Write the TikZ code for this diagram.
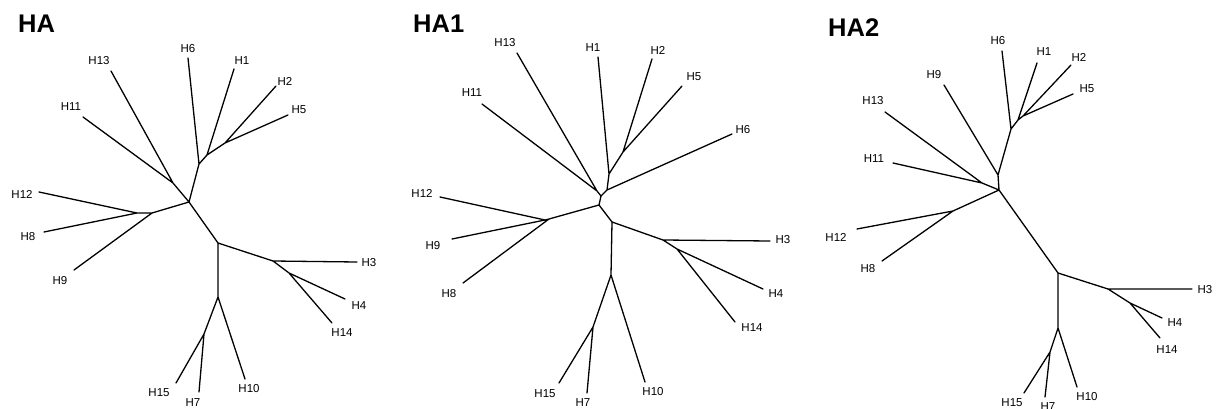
\documentclass[tikz,border=0pt]{standalone}
\usepackage{fontspec}
\setmainfont{Liberation Sans}
\begin{document}
\begin{tikzpicture}[x=1pt,y=-1pt,
  branch/.style={line width=1.3pt,line cap=round,line join=round},
  leaf/.style={inner sep=0pt,font=\fontsize{11.5}{12}\selectfont},
  title/.style={inner sep=0pt,anchor=base west,font=\fontsize{25.5}{26}\selectfont\bfseries}]
\useasboundingbox (0,0) rectangle (1222,409);

% ---------------- HA ----------------
\node[title] (tA) at (18,33) {HA};
\coordinate (a0) at (189,202);
\coordinate (aD) at (173,183);
\coordinate (aA) at (199,164);
\coordinate (aB) at (207,155);
\coordinate (aC) at (225,143);
\coordinate (aE) at (152,213);
\coordinate (aF) at (137,213);
\coordinate (aG) at (218,243);
\coordinate (aH) at (273,261);
\coordinate (aI) at (289,273);
\coordinate (aJ) at (218,297);
\coordinate (aK) at (204,334);
\coordinate (a6) at (188,58);
\coordinate (a1) at (234,69);
\coordinate (a2) at (276,86);
\coordinate (a5) at (288,115);
\coordinate (a13) at (111,71);
\coordinate (a11) at (83,117);
\coordinate (a12) at (39,192);
\coordinate (a8) at (44,232);
\coordinate (a9) at (74,270);
\coordinate (a3) at (357,262);
\coordinate (a4) at (345,299);
\coordinate (a14) at (332,323);
\coordinate (a15) at (176,383);
\coordinate (a7) at (199,392);
\coordinate (a10) at (245,379);
\draw[branch] (a0)--(aD) (aD)--(a13) (aD)--(a11)
  (a0)--(aA) (aA)--(a6) (aA)--(aB) (aB)--(a1) (aB)--(aC) (aC)--(a2) (aC)--(a5)
  (a0)--(aE) (aE)--(aF) (aF)--(a12) (aF)--(a8) (aE)--(a9)
  (a0)--(aG) (aG)--(aH) (aH)--(a3) (aH)--(aI) (aI)--(a4) (aI)--(a14)
  (aG)--(aJ) (aJ)--(aK) (aK)--(a15) (aK)--(a7) (aJ)--(a10);
\node[leaf] (la6) at (188,49) {H6};
\node[leaf] (la1) at (242,61) {H1};
\node[leaf] (la2) at (285,81) {H2};
\node[leaf] (la5) at (299,110) {H5};
\node[leaf] (la13) at (99,61) {H13};
\node[leaf] (la11) at (71,107) {H11};
\node[leaf] (la12) at (22,194) {H12};
\node[leaf] (la8) at (28,237) {H8};
\node[leaf] (la9) at (60,281) {H9};
\node[leaf] (la3) at (369,263) {H3};
\node[leaf] (la4) at (359,306) {H4};
\node[leaf] (la14) at (342,333) {H14};
\node[leaf] (la10) at (249,389) {H10};
\node[leaf] (la15) at (159,393) {H15};
\node[leaf] (la7) at (193,403) {H7};

% ---------------- HA1 ----------------
\node[title] (tB) at (413,33) {HA1};
\coordinate (b0) at (599,205);
\coordinate (bN3) at (601,196);
\coordinate (bD) at (597,191);
\coordinate (bN2) at (607,190);
\coordinate (bN1) at (609,174);
\coordinate (bC) at (623,152);
\coordinate (bE) at (549,219);
\coordinate (bF) at (545,220);
\coordinate (bG) at (612,222);
\coordinate (bH) at (663,240);
\coordinate (bI) at (677,249);
\coordinate (bJ) at (611,275);
\coordinate (bK) at (593,327);
\coordinate (b13) at (517,53);
\coordinate (b11) at (482,104);
\coordinate (b1) at (598,57);
\coordinate (b2) at (652,59);
\coordinate (b5) at (682,86);
\coordinate (b6) at (732,134);
\coordinate (b12) at (440,197);
\coordinate (b9) at (452,239);
\coordinate (b8) at (463,283);
\coordinate (b3) at (770,241);
\coordinate (b4) at (763,289);
\coordinate (b14) at (735,322);
\coordinate (b15) at (559,383);
\coordinate (b7) at (587,393);
\coordinate (b10) at (645,382);
\draw[branch] (b0)--(bN3) (bN3)--(bD) (bD)--(b13) (bD)--(b11)
  (bN3)--(bN2) (bN2)--(b6) (bN2)--(bN1) (bN1)--(b1) (bN1)--(bC) (bC)--(b2) (bC)--(b5)
  (b0)--(bE) (bE)--(bF) (bF)--(b12) (bF)--(b9) (bE)--(b8)
  (b0)--(bG) (bG)--(bH) (bH)--(b3) (bH)--(bI) (bI)--(b4) (bI)--(b14)
  (bG)--(bJ) (bJ)--(bK) (bK)--(b15) (bK)--(b7) (bJ)--(b10);
\node[leaf] (lb13) at (505,43) {H13};
\node[leaf] (lb1) at (593,48) {H1};
\node[leaf] (lb2) at (658,50) {H2};
\node[leaf] (lb5) at (694,77) {H5};
\node[leaf] (lb11) at (472,93) {H11};
\node[leaf] (lb6) at (743,130) {H6};
\node[leaf] (lb12) at (422,193) {H12};
\node[leaf] (lb9) at (433,246) {H9};
\node[leaf] (lb8) at (449,294) {H8};
\node[leaf] (lb3) at (783,240) {H3};
\node[leaf] (lb4) at (776,294) {H4};
\node[leaf] (lb14) at (752,328) {H14};
\node[leaf] (lb10) at (653,392) {H10};
\node[leaf] (lb15) at (545,394) {H15};
\node[leaf] (lb7) at (583,403) {H7};

% ---------------- HA2 ----------------
\node[title] (tC) at (828,37) {HA2};
\coordinate (c0) at (999,190);
\coordinate (cN) at (998,175);
\coordinate (cA) at (1011,129);
\coordinate (cB) at (1018,120);
\coordinate (cC) at (1023,116);
\coordinate (cD) at (982,183);
\coordinate (cE) at (953,211);
\coordinate (cG) at (1058,273);
\coordinate (cH) at (1108,289);
\coordinate (cI) at (1130,303);
\coordinate (cJ) at (1058,328);
\coordinate (cK) at (1050,352);
\coordinate (c9) at (944,85);
\coordinate (c6) at (1002,51);
\coordinate (c1) at (1037,63);
\coordinate (c2) at (1071,65);
\coordinate (c5) at (1073,94);
\coordinate (c13) at (885,112);
\coordinate (c11) at (893,163);
\coordinate (c12) at (857,229);
\coordinate (c8) at (882,261);
\coordinate (c3) at (1192,289);
\coordinate (c4) at (1162,318);
\coordinate (c14) at (1160,338);
\coordinate (c15) at (1024,393);
\coordinate (c7) at (1045,397);
\coordinate (c10) at (1077,387);
\draw[branch] (c0)--(cN) (cN)--(c9) (cN)--(cA) (cA)--(c6) (cA)--(cB) (cB)--(c1)
  (cB)--(cC) (cC)--(c2) (cC)--(c5)
  (c0)--(cD) (cD)--(c13) (cD)--(c11)
  (c0)--(cE) (cE)--(c12) (cE)--(c8)
  (c0)--(cG) (cG)--(cH) (cH)--(c3) (cH)--(cI) (cI)--(c4) (cI)--(c14)
  (cG)--(cJ) (cJ)--(cK) (cK)--(c15) (cK)--(c7) (cJ)--(c10);
\node[leaf] (lc6) at (998,41) {H6};
\node[leaf] (lc1) at (1044,52) {H1};
\node[leaf] (lc2) at (1079,57) {H2};
\node[leaf] (lc5) at (1087,89) {H5};
\node[leaf] (lc9) at (934,75) {H9};
\node[leaf] (lc13) at (873,101) {H13};
\node[leaf] (lc11) at (874,159) {H11};
\node[leaf] (lc12) at (836,237) {H12};
\node[leaf] (lc8) at (868,269) {H8};
\node[leaf] (lc3) at (1205,290) {H3};
\node[leaf] (lc4) at (1175,323) {H4};
\node[leaf] (lc14) at (1167,350) {H14};
\node[leaf] (lc10) at (1087,397) {H10};
\node[leaf] (lc15) at (1012,403) {H15};
\node[leaf] (lc7) at (1048,407) {H7};
\end{tikzpicture}
\end{document}
